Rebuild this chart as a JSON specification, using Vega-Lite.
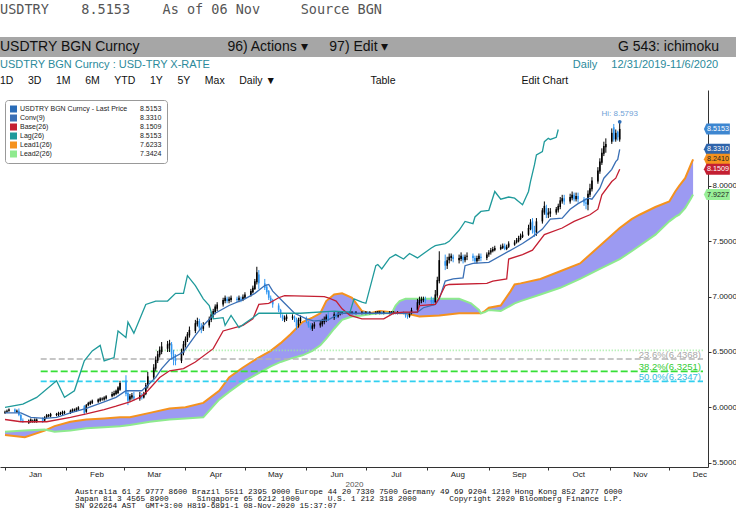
{
  "$schema": "https://vega.github.io/schema/vega-lite/v6.json",
  "padding": {"top": 3, "left": 0, "right": 0, "bottom": 0},
  "background": "white",
  "spacing": 2,
  "config": {"font": "Liberation Sans", "view": {"stroke": null}},
  "title": {
    "text": [
      "Australia 61 2 9777 8600 Brazil 5511 2395 9000 Europe 44 20 7330 7500 Germany 49 69 9204 1210 Hong Kong 852 2977 6000",
      "Japan 81 3 4565 8900\u00a0\u00a0\u00a0\u00a0\u00a0\u00a0Singapore 65 6212 1000\u00a0\u00a0\u00a0\u00a0\u00a0\u00a0U.S. 1 212 318 2000\u00a0\u00a0\u00a0\u00a0\u00a0\u00a0\u00a0Copyright 2020 Bloomberg Finance L.P.",
      "\u2003\u2003\u2003\u2003\u2003\u2003\u2003\u2003\u2003\u2003\u2003\u2003\u2003\u2003\u2003\u2003\u2003\u2003\u2003\u2003\u2003\u2003\u2003\u2003\u2003\u2003\u2003\u2003\u2003\u2003\u2003\u2003\u2003\u2003\u2003\u2003\u2003\u2003\u2003\u2003\u2003\u2003\u2003\u2003\u00a0\u00a0SN 926264 AST\u00a0\u00a0GMT+3:00 H819-6891-1 08-Nov-2020 15:37:07"
    ],
    "orient": "bottom", "anchor": "start", "dx": 75, "offset": 0,
    "font": "Liberation Mono", "fontSize": 7.8, "fontWeight": "normal", "color": "#111111", "lineHeight": 7
  },
  "resolve": {
    "scale": {"color": "independent", "fill": "independent", "stroke": "independent", "strokeDash": "independent"},
    "legend": {"color": "independent", "fill": "independent", "stroke": "independent", "strokeDash": "independent"}
  },
  "datasets": {
    "candles": [
      {"d":"2020-01-01","o":5.95,"h":5.97,"l":5.94,"c":5.96},
      {"d":"2020-01-02","o":5.96,"h":5.98,"l":5.95,"c":5.97},
      {"d":"2020-01-03","o":5.97,"h":5.99,"l":5.96,"c":5.98},
      {"d":"2020-01-06","o":5.98,"h":5.99,"l":5.95,"c":5.96},
      {"d":"2020-01-07","o":5.96,"h":5.98,"l":5.95,"c":5.97},
      {"d":"2020-01-08","o":5.97,"h":5.99,"l":5.92,"c":5.93},
      {"d":"2020-01-09","o":5.93,"h":5.94,"l":5.87,"c":5.88},
      {"d":"2020-01-10","o":5.88,"h":5.90,"l":5.86,"c":5.87},
      {"d":"2020-01-13","o":5.86,"h":5.89,"l":5.85,"c":5.88},
      {"d":"2020-01-14","o":5.87,"h":5.90,"l":5.86,"c":5.89},
      {"d":"2020-01-15","o":5.87,"h":5.89,"l":5.86,"c":5.88},
      {"d":"2020-01-16","o":5.87,"h":5.90,"l":5.86,"c":5.89},
      {"d":"2020-01-17","o":5.87,"h":5.90,"l":5.86,"c":5.89},
      {"d":"2020-01-20","o":5.90,"h":5.91,"l":5.86,"c":5.87},
      {"d":"2020-01-21","o":5.88,"h":5.92,"l":5.87,"c":5.91},
      {"d":"2020-01-22","o":5.91,"h":5.94,"l":5.90,"c":5.93},
      {"d":"2020-01-23","o":5.92,"h":5.94,"l":5.91,"c":5.93},
      {"d":"2020-01-24","o":5.92,"h":5.95,"l":5.91,"c":5.94},
      {"d":"2020-01-27","o":5.93,"h":5.95,"l":5.92,"c":5.94},
      {"d":"2020-01-28","o":5.93,"h":5.96,"l":5.92,"c":5.95},
      {"d":"2020-01-29","o":5.94,"h":5.96,"l":5.93,"c":5.95},
      {"d":"2020-01-30","o":5.94,"h":5.97,"l":5.93,"c":5.96},
      {"d":"2020-01-31","o":5.95,"h":5.97,"l":5.94,"c":5.96},
      {"d":"2020-02-03","o":5.95,"h":5.98,"l":5.94,"c":5.97},
      {"d":"2020-02-04","o":5.96,"h":5.99,"l":5.95,"c":5.98},
      {"d":"2020-02-05","o":5.97,"h":5.99,"l":5.96,"c":5.98},
      {"d":"2020-02-06","o":5.97,"h":6.00,"l":5.96,"c":5.99},
      {"d":"2020-02-07","o":5.98,"h":6.01,"l":5.97,"c":6.00},
      {"d":"2020-02-10","o":6.01,"h":6.02,"l":5.93,"c":5.95},
      {"d":"2020-02-11","o":5.96,"h":6.03,"l":5.95,"c":6.02},
      {"d":"2020-02-12","o":6.02,"h":6.05,"l":6.01,"c":6.04},
      {"d":"2020-02-13","o":6.03,"h":6.06,"l":6.02,"c":6.05},
      {"d":"2020-02-14","o":6.04,"h":6.07,"l":6.03,"c":6.06},
      {"d":"2020-02-17","o":6.05,"h":6.08,"l":6.04,"c":6.07},
      {"d":"2020-02-18","o":6.06,"h":6.09,"l":6.05,"c":6.08},
      {"d":"2020-02-19","o":6.07,"h":6.09,"l":6.06,"c":6.08},
      {"d":"2020-02-20","o":6.07,"h":6.10,"l":6.06,"c":6.09},
      {"d":"2020-02-21","o":6.08,"h":6.11,"l":6.07,"c":6.10},
      {"d":"2020-02-24","o":6.10,"h":6.14,"l":6.09,"c":6.12},
      {"d":"2020-02-25","o":6.11,"h":6.15,"l":6.10,"c":6.13},
      {"d":"2020-02-26","o":6.12,"h":6.16,"l":6.11,"c":6.15},
      {"d":"2020-02-27","o":6.13,"h":6.19,"l":6.12,"c":6.18},
      {"d":"2020-02-28","o":6.16,"h":6.24,"l":6.15,"c":6.22},
      {"d":"2020-03-02","o":6.24,"h":6.29,"l":6.10,"c":6.12},
      {"d":"2020-03-03","o":6.13,"h":6.15,"l":6.02,"c":6.06},
      {"d":"2020-03-04","o":6.07,"h":6.12,"l":6.05,"c":6.10},
      {"d":"2020-03-05","o":6.09,"h":6.13,"l":6.07,"c":6.11},
      {"d":"2020-03-06","o":6.10,"h":6.14,"l":6.06,"c":6.08},
      {"d":"2020-03-09","o":6.08,"h":6.14,"l":6.06,"c":6.11},
      {"d":"2020-03-10","o":6.10,"h":6.13,"l":6.07,"c":6.09},
      {"d":"2020-03-11","o":6.09,"h":6.14,"l":6.08,"c":6.12},
      {"d":"2020-03-12","o":6.12,"h":6.22,"l":6.11,"c":6.20},
      {"d":"2020-03-13","o":6.19,"h":6.32,"l":6.17,"c":6.28},
      {"d":"2020-03-16","o":6.27,"h":6.39,"l":6.25,"c":6.36},
      {"d":"2020-03-17","o":6.35,"h":6.46,"l":6.33,"c":6.43},
      {"d":"2020-03-18","o":6.42,"h":6.51,"l":6.40,"c":6.48},
      {"d":"2020-03-19","o":6.47,"h":6.55,"l":6.45,"c":6.52},
      {"d":"2020-03-20","o":6.50,"h":6.59,"l":6.48,"c":6.55},
      {"d":"2020-03-23","o":6.53,"h":6.60,"l":6.50,"c":6.57},
      {"d":"2020-03-24","o":6.56,"h":6.61,"l":6.50,"c":6.58},
      {"d":"2020-03-25","o":6.57,"h":6.59,"l":6.43,"c":6.48},
      {"d":"2020-03-26","o":6.48,"h":6.52,"l":6.38,"c":6.43},
      {"d":"2020-03-27","o":6.44,"h":6.48,"l":6.38,"c":6.42},
      {"d":"2020-03-30","o":6.42,"h":6.53,"l":6.40,"c":6.50},
      {"d":"2020-03-31","o":6.49,"h":6.60,"l":6.47,"c":6.57},
      {"d":"2020-04-01","o":6.56,"h":6.64,"l":6.54,"c":6.62},
      {"d":"2020-04-02","o":6.61,"h":6.68,"l":6.59,"c":6.66},
      {"d":"2020-04-03","o":6.65,"h":6.73,"l":6.63,"c":6.70},
      {"d":"2020-04-06","o":6.69,"h":6.79,"l":6.67,"c":6.76},
      {"d":"2020-04-07","o":6.75,"h":6.81,"l":6.73,"c":6.78},
      {"d":"2020-04-08","o":6.78,"h":6.80,"l":6.70,"c":6.72},
      {"d":"2020-04-09","o":6.73,"h":6.76,"l":6.67,"c":6.70},
      {"d":"2020-04-10","o":6.71,"h":6.77,"l":6.69,"c":6.74},
      {"d":"2020-04-13","o":6.74,"h":6.82,"l":6.72,"c":6.80},
      {"d":"2020-04-14","o":6.79,"h":6.86,"l":6.77,"c":6.84},
      {"d":"2020-04-15","o":6.83,"h":6.89,"l":6.81,"c":6.87},
      {"d":"2020-04-16","o":6.86,"h":6.93,"l":6.84,"c":6.91},
      {"d":"2020-04-17","o":6.89,"h":6.95,"l":6.87,"c":6.93},
      {"d":"2020-04-20","o":6.93,"h":6.99,"l":6.91,"c":6.97},
      {"d":"2020-04-21","o":6.96,"h":7.01,"l":6.94,"c":6.99},
      {"d":"2020-04-22","o":6.98,"h":7.00,"l":6.94,"c":6.96},
      {"d":"2020-04-23","o":6.96,"h":7.00,"l":6.94,"c":6.98},
      {"d":"2020-04-24","o":6.97,"h":7.01,"l":6.95,"c":6.99},
      {"d":"2020-04-27","o":6.98,"h":7.00,"l":6.95,"c":6.97},
      {"d":"2020-04-28","o":6.97,"h":7.01,"l":6.95,"c":6.99},
      {"d":"2020-04-29","o":6.98,"h":7.00,"l":6.95,"c":6.97},
      {"d":"2020-04-30","o":6.97,"h":7.02,"l":6.96,"c":7.00},
      {"d":"2020-05-01","o":6.99,"h":7.04,"l":6.98,"c":7.02},
      {"d":"2020-05-04","o":7.01,"h":7.07,"l":7.00,"c":7.05},
      {"d":"2020-05-05","o":7.04,"h":7.10,"l":7.03,"c":7.08},
      {"d":"2020-05-06","o":7.07,"h":7.16,"l":7.06,"c":7.14},
      {"d":"2020-05-07","o":7.13,"h":7.27,"l":7.11,"c":7.22},
      {"d":"2020-05-08","o":7.20,"h":7.24,"l":7.07,"c":7.12},
      {"d":"2020-05-11","o":7.12,"h":7.16,"l":7.06,"c":7.08},
      {"d":"2020-05-12","o":7.09,"h":7.11,"l":7.02,"c":7.04},
      {"d":"2020-05-13","o":7.05,"h":7.06,"l":6.97,"c":6.99},
      {"d":"2020-05-14","o":6.99,"h":7.01,"l":6.94,"c":6.96},
      {"d":"2020-05-15","o":6.96,"h":6.98,"l":6.90,"c":6.93},
      {"d":"2020-05-18","o":6.92,"h":6.94,"l":6.86,"c":6.88},
      {"d":"2020-05-19","o":6.88,"h":6.89,"l":6.81,"c":6.84},
      {"d":"2020-05-20","o":6.83,"h":6.84,"l":6.78,"c":6.80},
      {"d":"2020-05-21","o":6.79,"h":6.83,"l":6.77,"c":6.81},
      {"d":"2020-05-22","o":6.80,"h":6.84,"l":6.78,"c":6.82},
      {"d":"2020-05-25","o":6.81,"h":6.84,"l":6.79,"c":6.82},
      {"d":"2020-05-26","o":6.82,"h":6.83,"l":6.77,"c":6.80},
      {"d":"2020-05-27","o":6.80,"h":6.81,"l":6.70,"c":6.73},
      {"d":"2020-05-28","o":6.74,"h":6.81,"l":6.72,"c":6.79},
      {"d":"2020-05-29","o":6.78,"h":6.83,"l":6.76,"c":6.81},
      {"d":"2020-06-01","o":6.80,"h":6.82,"l":6.76,"c":6.78},
      {"d":"2020-06-02","o":6.77,"h":6.78,"l":6.72,"c":6.74},
      {"d":"2020-06-03","o":6.74,"h":6.76,"l":6.70,"c":6.72},
      {"d":"2020-06-04","o":6.71,"h":6.76,"l":6.69,"c":6.74},
      {"d":"2020-06-05","o":6.73,"h":6.77,"l":6.71,"c":6.75},
      {"d":"2020-06-08","o":6.74,"h":6.78,"l":6.72,"c":6.76},
      {"d":"2020-06-09","o":6.75,"h":6.80,"l":6.73,"c":6.78},
      {"d":"2020-06-10","o":6.77,"h":6.82,"l":6.75,"c":6.80},
      {"d":"2020-06-11","o":6.79,"h":6.84,"l":6.77,"c":6.82},
      {"d":"2020-06-12","o":6.83,"h":6.86,"l":6.78,"c":6.80},
      {"d":"2020-06-15","o":6.81,"h":6.86,"l":6.79,"c":6.84},
      {"d":"2020-06-16","o":6.84,"h":6.87,"l":6.80,"c":6.82},
      {"d":"2020-06-17","o":6.82,"h":6.86,"l":6.81,"c":6.84},
      {"d":"2020-06-18","o":6.84,"h":6.87,"l":6.83,"c":6.85},
      {"d":"2020-06-19","o":6.85,"h":6.87,"l":6.84,"c":6.86},
      {"d":"2020-06-22","o":6.86,"h":6.87,"l":6.84,"c":6.85},
      {"d":"2020-06-23","o":6.85,"h":6.87,"l":6.84,"c":6.86},
      {"d":"2020-06-24","o":6.85,"h":6.87,"l":6.84,"c":6.86},
      {"d":"2020-06-25","o":6.86,"h":6.87,"l":6.84,"c":6.85},
      {"d":"2020-06-26","o":6.85,"h":6.87,"l":6.84,"c":6.86},
      {"d":"2020-06-29","o":6.85,"h":6.87,"l":6.84,"c":6.86},
      {"d":"2020-06-30","o":6.86,"h":6.87,"l":6.84,"c":6.85},
      {"d":"2020-07-01","o":6.85,"h":6.87,"l":6.84,"c":6.86},
      {"d":"2020-07-02","o":6.86,"h":6.87,"l":6.84,"c":6.85},
      {"d":"2020-07-03","o":6.85,"h":6.87,"l":6.84,"c":6.86},
      {"d":"2020-07-06","o":6.85,"h":6.87,"l":6.84,"c":6.86},
      {"d":"2020-07-07","o":6.855,"h":6.87,"l":6.845,"c":6.865},
      {"d":"2020-07-08","o":6.85,"h":6.87,"l":6.84,"c":6.86},
      {"d":"2020-07-09","o":6.86,"h":6.87,"l":6.84,"c":6.85},
      {"d":"2020-07-10","o":6.85,"h":6.87,"l":6.84,"c":6.86},
      {"d":"2020-07-13","o":6.85,"h":6.87,"l":6.84,"c":6.86},
      {"d":"2020-07-14","o":6.855,"h":6.87,"l":6.845,"c":6.865},
      {"d":"2020-07-15","o":6.85,"h":6.87,"l":6.84,"c":6.86},
      {"d":"2020-07-16","o":6.86,"h":6.87,"l":6.84,"c":6.85},
      {"d":"2020-07-17","o":6.85,"h":6.87,"l":6.84,"c":6.86},
      {"d":"2020-07-20","o":6.86,"h":6.87,"l":6.84,"c":6.85},
      {"d":"2020-07-21","o":6.85,"h":6.86,"l":6.81,"c":6.83},
      {"d":"2020-07-22","o":6.83,"h":6.84,"l":6.80,"c":6.82},
      {"d":"2020-07-23","o":6.82,"h":6.86,"l":6.81,"c":6.85},
      {"d":"2020-07-24","o":6.85,"h":6.90,"l":6.84,"c":6.88},
      {"d":"2020-07-27","o":6.88,"h":6.98,"l":6.87,"c":6.95},
      {"d":"2020-07-28","o":6.94,"h":7.00,"l":6.92,"c":6.97},
      {"d":"2020-07-29","o":6.96,"h":7.00,"l":6.94,"c":6.98},
      {"d":"2020-07-30","o":6.97,"h":7.00,"l":6.95,"c":6.98},
      {"d":"2020-07-31","o":6.98,"h":7.00,"l":6.94,"c":6.96},
      {"d":"2020-08-03","o":6.97,"h":7.00,"l":6.93,"c":6.95},
      {"d":"2020-08-04","o":6.97,"h":6.99,"l":6.92,"c":6.94},
      {"d":"2020-08-05","o":6.95,"h":7.06,"l":6.94,"c":7.02},
      {"d":"2020-08-06","o":7.01,"h":7.18,"l":6.99,"c":7.15},
      {"d":"2020-08-07","o":7.14,"h":7.41,"l":7.12,"c":7.33},
      {"d":"2020-08-10","o":7.32,"h":7.38,"l":7.24,"c":7.28},
      {"d":"2020-08-11","o":7.28,"h":7.36,"l":7.25,"c":7.33},
      {"d":"2020-08-12","o":7.33,"h":7.39,"l":7.30,"c":7.36},
      {"d":"2020-08-13","o":7.35,"h":7.39,"l":7.32,"c":7.37},
      {"d":"2020-08-14","o":7.36,"h":7.38,"l":7.31,"c":7.34},
      {"d":"2020-08-17","o":7.33,"h":7.38,"l":7.30,"c":7.35},
      {"d":"2020-08-18","o":7.34,"h":7.40,"l":7.32,"c":7.37},
      {"d":"2020-08-19","o":7.36,"h":7.38,"l":7.30,"c":7.33},
      {"d":"2020-08-20","o":7.33,"h":7.38,"l":7.31,"c":7.36},
      {"d":"2020-08-21","o":7.36,"h":7.40,"l":7.33,"c":7.37},
      {"d":"2020-08-24","o":7.37,"h":7.39,"l":7.32,"c":7.35},
      {"d":"2020-08-25","o":7.35,"h":7.37,"l":7.30,"c":7.32},
      {"d":"2020-08-26","o":7.32,"h":7.37,"l":7.30,"c":7.35},
      {"d":"2020-08-27","o":7.34,"h":7.39,"l":7.32,"c":7.37},
      {"d":"2020-08-28","o":7.36,"h":7.39,"l":7.32,"c":7.35},
      {"d":"2020-08-31","o":7.35,"h":7.40,"l":7.33,"c":7.38},
      {"d":"2020-09-01","o":7.38,"h":7.42,"l":7.36,"c":7.40},
      {"d":"2020-09-02","o":7.40,"h":7.44,"l":7.38,"c":7.42},
      {"d":"2020-09-03","o":7.41,"h":7.45,"l":7.40,"c":7.43},
      {"d":"2020-09-04","o":7.42,"h":7.46,"l":7.41,"c":7.44},
      {"d":"2020-09-07","o":7.43,"h":7.47,"l":7.42,"c":7.45},
      {"d":"2020-09-08","o":7.44,"h":7.48,"l":7.43,"c":7.46},
      {"d":"2020-09-09","o":7.46,"h":7.48,"l":7.42,"c":7.43},
      {"d":"2020-09-10","o":7.43,"h":7.47,"l":7.42,"c":7.45},
      {"d":"2020-09-11","o":7.45,"h":7.50,"l":7.44,"c":7.48},
      {"d":"2020-09-14","o":7.47,"h":7.51,"l":7.46,"c":7.49},
      {"d":"2020-09-15","o":7.49,"h":7.53,"l":7.48,"c":7.51},
      {"d":"2020-09-16","o":7.50,"h":7.55,"l":7.49,"c":7.53},
      {"d":"2020-09-17","o":7.52,"h":7.57,"l":7.51,"c":7.55},
      {"d":"2020-09-18","o":7.54,"h":7.59,"l":7.53,"c":7.56},
      {"d":"2020-09-21","o":7.56,"h":7.65,"l":7.55,"c":7.62},
      {"d":"2020-09-22","o":7.61,"h":7.70,"l":7.60,"c":7.67},
      {"d":"2020-09-23","o":7.68,"h":7.71,"l":7.57,"c":7.60},
      {"d":"2020-09-24","o":7.60,"h":7.64,"l":7.54,"c":7.58},
      {"d":"2020-09-25","o":7.58,"h":7.71,"l":7.55,"c":7.68},
      {"d":"2020-09-28","o":7.68,"h":7.80,"l":7.66,"c":7.78},
      {"d":"2020-09-29","o":7.76,"h":7.86,"l":7.74,"c":7.82},
      {"d":"2020-09-30","o":7.80,"h":7.83,"l":7.71,"c":7.74},
      {"d":"2020-10-01","o":7.74,"h":7.80,"l":7.71,"c":7.76},
      {"d":"2020-10-02","o":7.75,"h":7.80,"l":7.72,"c":7.77},
      {"d":"2020-10-05","o":7.76,"h":7.81,"l":7.74,"c":7.79},
      {"d":"2020-10-06","o":7.78,"h":7.84,"l":7.76,"c":7.82},
      {"d":"2020-10-07","o":7.81,"h":7.90,"l":7.79,"c":7.87},
      {"d":"2020-10-08","o":7.86,"h":7.92,"l":7.84,"c":7.89},
      {"d":"2020-10-09","o":7.89,"h":7.92,"l":7.83,"c":7.86},
      {"d":"2020-10-12","o":7.86,"h":7.93,"l":7.84,"c":7.90},
      {"d":"2020-10-13","o":7.89,"h":7.95,"l":7.87,"c":7.92},
      {"d":"2020-10-14","o":7.92,"h":7.94,"l":7.86,"c":7.88},
      {"d":"2020-10-15","o":7.88,"h":7.94,"l":7.86,"c":7.91},
      {"d":"2020-10-16","o":7.91,"h":7.94,"l":7.85,"c":7.88},
      {"d":"2020-10-19","o":7.88,"h":7.90,"l":7.82,"c":7.85},
      {"d":"2020-10-20","o":7.85,"h":7.89,"l":7.79,"c":7.84},
      {"d":"2020-10-21","o":7.83,"h":7.96,"l":7.78,"c":7.93},
      {"d":"2020-10-22","o":7.92,"h":8.02,"l":7.90,"c":7.98},
      {"d":"2020-10-23","o":7.97,"h":8.08,"l":7.95,"c":8.05},
      {"d":"2020-10-26","o":8.04,"h":8.17,"l":8.02,"c":8.14},
      {"d":"2020-10-27","o":8.13,"h":8.25,"l":8.11,"c":8.22},
      {"d":"2020-10-28","o":8.21,"h":8.34,"l":8.19,"c":8.30},
      {"d":"2020-10-29","o":8.29,"h":8.40,"l":8.27,"c":8.36},
      {"d":"2020-10-30","o":8.35,"h":8.43,"l":8.30,"c":8.38},
      {"d":"2020-11-02","o":8.40,"h":8.52,"l":8.38,"c":8.48},
      {"d":"2020-11-03","o":8.53,"h":8.56,"l":8.40,"c":8.42},
      {"d":"2020-11-04","o":8.42,"h":8.51,"l":8.40,"c":8.48},
      {"d":"2020-11-05","o":8.49,"h":8.50,"l":8.41,"c":8.44},
      {"d":"2020-11-06","o":8.42,"h":8.5793,"l":8.40,"c":8.5153}
    ],
    "lines": [
      {"s":"conv","d":"2020-01-01","v":5.95},{"s":"conv","d":"2020-01-09","v":5.95},{"s":"conv","d":"2020-01-14","v":5.91},
      {"s":"conv","d":"2020-01-21","v":5.90},{"s":"conv","d":"2020-01-27","v":5.91},{"s":"conv","d":"2020-02-03","v":5.95},
      {"s":"conv","d":"2020-02-11","v":5.99},{"s":"conv","d":"2020-02-20","v":6.05},{"s":"conv","d":"2020-02-26","v":6.09},
      {"s":"conv","d":"2020-03-02","v":6.15},{"s":"conv","d":"2020-03-06","v":6.15},{"s":"conv","d":"2020-03-10","v":6.15},
      {"s":"conv","d":"2020-03-13","v":6.20},{"s":"conv","d":"2020-03-17","v":6.27},{"s":"conv","d":"2020-03-20","v":6.35},
      {"s":"conv","d":"2020-03-24","v":6.43},{"s":"conv","d":"2020-03-31","v":6.50},{"s":"conv","d":"2020-04-06","v":6.65},
      {"s":"conv","d":"2020-04-10","v":6.74},{"s":"conv","d":"2020-04-16","v":6.85},{"s":"conv","d":"2020-04-23","v":6.92},
      {"s":"conv","d":"2020-05-01","v":6.98},{"s":"conv","d":"2020-05-06","v":7.03},{"s":"conv","d":"2020-05-11","v":7.10},
      {"s":"conv","d":"2020-05-13","v":7.11},{"s":"conv","d":"2020-05-15","v":7.05},{"s":"conv","d":"2020-05-21","v":6.94},
      {"s":"conv","d":"2020-05-26","v":6.85},{"s":"conv","d":"2020-06-01","v":6.80},{"s":"conv","d":"2020-06-05","v":6.78},
      {"s":"conv","d":"2020-06-12","v":6.79},{"s":"conv","d":"2020-06-18","v":6.85},{"s":"conv","d":"2020-06-30","v":6.85},
      {"s":"conv","d":"2020-07-21","v":6.85},{"s":"conv","d":"2020-07-27","v":6.86},{"s":"conv","d":"2020-07-30","v":6.90},
      {"s":"conv","d":"2020-08-05","v":6.93},{"s":"conv","d":"2020-08-07","v":6.98},{"s":"conv","d":"2020-08-10","v":7.14},
      {"s":"conv","d":"2020-08-14","v":7.16},{"s":"conv","d":"2020-08-19","v":7.17},{"s":"conv","d":"2020-08-20","v":7.28},
      {"s":"conv","d":"2020-08-24","v":7.30},{"s":"conv","d":"2020-09-01","v":7.31},{"s":"conv","d":"2020-09-14","v":7.44},
      {"s":"conv","d":"2020-09-18","v":7.48},{"s":"conv","d":"2020-09-23","v":7.54},{"s":"conv","d":"2020-09-28","v":7.61},
      {"s":"conv","d":"2020-10-02","v":7.70},{"s":"conv","d":"2020-10-08","v":7.71},{"s":"conv","d":"2020-10-12","v":7.79},
      {"s":"conv","d":"2020-10-16","v":7.84},{"s":"conv","d":"2020-10-21","v":7.89},{"s":"conv","d":"2020-10-23","v":7.88},
      {"s":"conv","d":"2020-10-27","v":7.98},{"s":"conv","d":"2020-10-29","v":8.07},{"s":"conv","d":"2020-11-02","v":8.15},
      {"s":"conv","d":"2020-11-04","v":8.22},{"s":"conv","d":"2020-11-05","v":8.24},{"s":"conv","d":"2020-11-06","v":8.331},
      {"s":"base","d":"2020-01-01","v":5.89},{"s":"base","d":"2020-01-09","v":5.87},{"s":"base","d":"2020-01-22","v":5.87},
      {"s":"base","d":"2020-02-03","v":5.91},{"s":"base","d":"2020-02-11","v":5.94},{"s":"base","d":"2020-02-20","v":5.98},
      {"s":"base","d":"2020-02-26","v":6.01},{"s":"base","d":"2020-03-04","v":6.05},{"s":"base","d":"2020-03-09","v":6.09},
      {"s":"base","d":"2020-03-13","v":6.15},{"s":"base","d":"2020-03-19","v":6.27},{"s":"base","d":"2020-03-24","v":6.33},
      {"s":"base","d":"2020-03-31","v":6.35},{"s":"base","d":"2020-04-06","v":6.41},{"s":"base","d":"2020-04-15","v":6.53},
      {"s":"base","d":"2020-04-20","v":6.69},{"s":"base","d":"2020-04-30","v":6.74},{"s":"base","d":"2020-05-05","v":6.80},
      {"s":"base","d":"2020-05-08","v":6.93},{"s":"base","d":"2020-05-13","v":6.94},{"s":"base","d":"2020-05-18","v":6.99},
      {"s":"base","d":"2020-05-21","v":7.01},{"s":"base","d":"2020-06-10","v":7.00},{"s":"base","d":"2020-06-12","v":6.99},
      {"s":"base","d":"2020-06-16","v":6.96},{"s":"base","d":"2020-06-19","v":6.89},{"s":"base","d":"2020-06-23","v":6.83},
      {"s":"base","d":"2020-06-29","v":6.80},{"s":"base","d":"2020-07-10","v":6.80},{"s":"base","d":"2020-07-15","v":6.85},
      {"s":"base","d":"2020-07-20","v":6.86},{"s":"base","d":"2020-07-27","v":6.86},{"s":"base","d":"2020-07-28","v":6.92},
      {"s":"base","d":"2020-08-05","v":6.93},{"s":"base","d":"2020-08-07","v":6.99},{"s":"base","d":"2020-08-10","v":7.10},
      {"s":"base","d":"2020-08-12","v":7.11},{"s":"base","d":"2020-08-31","v":7.12},{"s":"base","d":"2020-09-03","v":7.14},
      {"s":"base","d":"2020-09-10","v":7.16},{"s":"base","d":"2020-09-11","v":7.34},{"s":"base","d":"2020-09-18","v":7.38},
      {"s":"base","d":"2020-09-23","v":7.42},{"s":"base","d":"2020-09-29","v":7.56},{"s":"base","d":"2020-10-08","v":7.62},
      {"s":"base","d":"2020-10-14","v":7.68},{"s":"base","d":"2020-10-22","v":7.74},{"s":"base","d":"2020-10-26","v":7.79},
      {"s":"base","d":"2020-10-28","v":7.92},{"s":"base","d":"2020-11-02","v":8.04},{"s":"base","d":"2020-11-04","v":8.07},
      {"s":"base","d":"2020-11-06","v":8.1509},
      {"s":"lag","d":"2020-01-01","v":6.00},{"s":"lag","d":"2020-01-10","v":6.03},{"s":"lag","d":"2020-01-17","v":6.09},
      {"s":"lag","d":"2020-01-27","v":6.24},{"s":"lag","d":"2020-01-31","v":6.09},{"s":"lag","d":"2020-02-05","v":6.15},
      {"s":"lag","d":"2020-02-10","v":6.42},{"s":"lag","d":"2020-02-14","v":6.51},{"s":"lag","d":"2020-02-18","v":6.56},
      {"s":"lag","d":"2020-02-20","v":6.42},{"s":"lag","d":"2020-02-25","v":6.45},{"s":"lag","d":"2020-02-27","v":6.69},
      {"s":"lag","d":"2020-03-02","v":6.63},{"s":"lag","d":"2020-03-03","v":6.77},{"s":"lag","d":"2020-03-06","v":6.67},
      {"s":"lag","d":"2020-03-12","v":6.93},{"s":"lag","d":"2020-03-17","v":6.96},{"s":"lag","d":"2020-03-23","v":6.96},
      {"s":"lag","d":"2020-03-27","v":7.03},{"s":"lag","d":"2020-03-31","v":7.03},{"s":"lag","d":"2020-04-02","v":7.19},
      {"s":"lag","d":"2020-04-06","v":7.10},{"s":"lag","d":"2020-04-07","v":7.07},{"s":"lag","d":"2020-04-10","v":6.98},
      {"s":"lag","d":"2020-04-13","v":6.92},{"s":"lag","d":"2020-04-15","v":6.80},{"s":"lag","d":"2020-04-20","v":6.81},
      {"s":"lag","d":"2020-04-21","v":6.74},{"s":"lag","d":"2020-04-24","v":6.83},{"s":"lag","d":"2020-04-28","v":6.72},
      {"s":"lag","d":"2020-05-01","v":6.76},{"s":"lag","d":"2020-05-05","v":6.81},{"s":"lag","d":"2020-05-08","v":6.85},
      {"s":"lag","d":"2020-05-20","v":6.85},{"s":"lag","d":"2020-05-29","v":6.85},{"s":"lag","d":"2020-06-15","v":6.87},
      {"s":"lag","d":"2020-06-23","v":6.86},{"s":"lag","d":"2020-06-25","v":6.98},{"s":"lag","d":"2020-06-29","v":6.95},
      {"s":"lag","d":"2020-07-01","v":6.94},{"s":"lag","d":"2020-07-06","v":7.28},{"s":"lag","d":"2020-07-07","v":7.29},
      {"s":"lag","d":"2020-07-09","v":7.25},{"s":"lag","d":"2020-07-13","v":7.35},{"s":"lag","d":"2020-07-16","v":7.38},
      {"s":"lag","d":"2020-07-20","v":7.34},{"s":"lag","d":"2020-07-23","v":7.39},{"s":"lag","d":"2020-07-27","v":7.35},
      {"s":"lag","d":"2020-08-03","v":7.44},{"s":"lag","d":"2020-08-05","v":7.46},{"s":"lag","d":"2020-08-10","v":7.48},
      {"s":"lag","d":"2020-08-12","v":7.50},{"s":"lag","d":"2020-08-14","v":7.54},{"s":"lag","d":"2020-08-17","v":7.60},
      {"s":"lag","d":"2020-08-20","v":7.68},{"s":"lag","d":"2020-08-24","v":7.66},{"s":"lag","d":"2020-08-25","v":7.72},
      {"s":"lag","d":"2020-08-28","v":7.77},{"s":"lag","d":"2020-09-01","v":7.78},{"s":"lag","d":"2020-09-04","v":7.95},
      {"s":"lag","d":"2020-09-07","v":7.88},{"s":"lag","d":"2020-09-11","v":7.90},{"s":"lag","d":"2020-09-14","v":7.89},
      {"s":"lag","d":"2020-09-16","v":7.86},{"s":"lag","d":"2020-09-18","v":7.83},{"s":"lag","d":"2020-09-21","v":7.95},
      {"s":"lag","d":"2020-09-22","v":8.04},{"s":"lag","d":"2020-09-24","v":8.19},{"s":"lag","d":"2020-09-25","v":8.28},
      {"s":"lag","d":"2020-09-28","v":8.31},{"s":"lag","d":"2020-09-29","v":8.40},{"s":"lag","d":"2020-10-01","v":8.43},
      {"s":"lag","d":"2020-10-02","v":8.42},{"s":"lag","d":"2020-10-05","v":8.44},{"s":"lag","d":"2020-10-06","v":8.51}
    ],
    "cloud": [
      {"d":"2020-01-01","lead1":5.75,"lead2":5.78},{"d":"2020-01-11","lead1":5.73,"lead2":5.79},
      {"d":"2020-01-21","lead1":5.79,"lead2":5.80},{"d":"2020-01-26","lead1":5.83,"lead2":5.78},
      {"d":"2020-02-03","lead1":5.87,"lead2":5.79},{"d":"2020-02-11","lead1":5.89,"lead2":5.81},
      {"d":"2020-02-20","lead1":5.90,"lead2":5.82},{"d":"2020-02-28","lead1":5.91,"lead2":5.83},
      {"d":"2020-03-04","lead1":5.91,"lead2":5.84},{"d":"2020-03-14","lead1":5.95,"lead2":5.87},
      {"d":"2020-03-24","lead1":5.99,"lead2":5.89},{"d":"2020-04-01","lead1":6.00,"lead2":5.90},
      {"d":"2020-04-10","lead1":6.04,"lead2":5.91},{"d":"2020-04-18","lead1":6.15,"lead2":6.07},
      {"d":"2020-04-23","lead1":6.27,"lead2":6.14},{"d":"2020-04-30","lead1":6.36,"lead2":6.23},
      {"d":"2020-05-07","lead1":6.44,"lead2":6.30},{"d":"2020-05-14","lead1":6.51,"lead2":6.37},
      {"d":"2020-05-19","lead1":6.58,"lead2":6.41},{"d":"2020-05-24","lead1":6.66,"lead2":6.44},
      {"d":"2020-05-30","lead1":6.77,"lead2":6.47},{"d":"2020-06-04","lead1":6.81,"lead2":6.51},
      {"d":"2020-06-08","lead1":6.85,"lead2":6.56},{"d":"2020-06-11","lead1":6.96,"lead2":6.62},
      {"d":"2020-06-15","lead1":7.02,"lead2":6.71},{"d":"2020-06-19","lead1":7.03,"lead2":6.79},
      {"d":"2020-06-24","lead1":6.99,"lead2":6.82},{"d":"2020-06-29","lead1":6.87,"lead2":6.83},
      {"d":"2020-07-03","lead1":6.85,"lead2":6.84},{"d":"2020-07-08","lead1":6.87,"lead2":6.85},
      {"d":"2020-07-14","lead1":6.86,"lead2":6.85},{"d":"2020-07-16","lead1":6.86,"lead2":6.92},
      {"d":"2020-07-18","lead1":6.85,"lead2":6.96},{"d":"2020-07-21","lead1":6.85,"lead2":6.98},
      {"d":"2020-07-28","lead1":6.82,"lead2":6.98},{"d":"2020-08-07","lead1":6.83,"lead2":6.98},
      {"d":"2020-08-17","lead1":6.85,"lead2":6.98},{"d":"2020-08-23","lead1":6.85,"lead2":6.94},
      {"d":"2020-08-27","lead1":6.85,"lead2":6.88},{"d":"2020-08-28","lead1":6.85,"lead2":6.85},
      {"d":"2020-08-30","lead1":6.87,"lead2":6.86},{"d":"2020-09-01","lead1":6.90,"lead2":6.88},
      {"d":"2020-09-07","lead1":6.92,"lead2":6.87},{"d":"2020-09-12","lead1":7.05,"lead2":6.92},
      {"d":"2020-09-14","lead1":7.11,"lead2":6.94},{"d":"2020-09-17","lead1":7.12,"lead2":6.96},
      {"d":"2020-09-27","lead1":7.16,"lead2":7.02},{"d":"2020-10-07","lead1":7.23,"lead2":7.08},
      {"d":"2020-10-17","lead1":7.30,"lead2":7.16},{"d":"2020-10-27","lead1":7.46,"lead2":7.25},
      {"d":"2020-11-06","lead1":7.62,"lead2":7.34},{"d":"2020-11-12","lead1":7.70,"lead2":7.41},
      {"d":"2020-11-16","lead1":7.74,"lead2":7.46},{"d":"2020-11-24","lead1":7.81,"lead2":7.56},
      {"d":"2020-12-01","lead1":7.86,"lead2":7.68},{"d":"2020-12-04","lead1":7.95,"lead2":7.72},
      {"d":"2020-12-06","lead1":8.00,"lead2":7.74},{"d":"2020-12-09","lead1":8.07,"lead2":7.80},
      {"d":"2020-12-12","lead1":8.20,"lead2":7.89},{"d":"2020-12-13","lead1":8.241,"lead2":7.9227}
    ],
    "fib": [
      {"k":"23.6%","v":6.4368,"start":"2020-01-19","lbl":"23.6%(6.4368)"},
      {"k":"38.2%","v":6.3251,"start":"2020-01-19","lbl":"38.2%(6.3251)"},
      {"k":"50.0%","v":6.2347,"start":"2020-01-19","lbl":"50.0%(6.2347)"},
      {"k":"dot","v":6.515,"start":"2020-03-17","lbl":""}
    ],
    "hi": [{"d":"2020-11-06","v":8.5793,"lbl":"Hi: 8.5793"}],
    "tags": [
      {"k":"px","v":8.5153},
      {"k":"conv","v":8.331},
      {"k":"lead1","v":8.241},
      {"k":"base","v":8.1509},
      {"k":"lead2","v":7.9227}
    ]
  },
  "vconcat": [
    {
      "width": 736,
      "height": 20,
      "view": {"fill": "#a6a6a6", "stroke": null},
      "title": {
        "text": "\u00a0USDTRY\u00a0\u00a0\u00a0\u00a08.5153\u00a0\u00a0\u00a0\u00a0As of 06 Nov\u00a0\u00a0\u00a0\u00a0\u00a0Source BGN",
        "subtitle": "\u00a0USDTRY BGN Curncy\u2003\u2003\u2003\u2003\u2003\u2003\u00a096) Actions \u25be\u2003\u00a0\u00a097) Edit \u25be\u2003\u2003\u2003\u2003\u2003\u2003\u2003\u2003\u2003\u2003\u2003\u2003\u2003\u2003\u2003\u00a0\u00a0\u00a0\u00a0\u00a0G 543: ichimoku",
        "anchor": "start",
        "offset": -16.5,
        "font": "DejaVu Sans Mono",
        "fontSize": 13.5,
        "fontWeight": "normal",
        "color": "#555555",
        "subtitleFont": "Liberation Sans",
        "subtitleFontSize": 14,
        "subtitleColor": "#111111",
        "subtitlePadding": 23
      },
      "data": {"values": [{}]},
      "mark": {"type": "text", "text": ""},
      "encoding": {}
    },
    {
      "width": 708,
      "height": 377,
      "title": {
        "text": "\u00a0USDTRY BGN Curncy : USD-TRY X-RATE\u2003\u2003\u2003\u2003\u2003\u2003\u2003\u2003\u2003\u2003\u2003\u2003\u2003\u2003\u2003\u2003\u2003\u2003\u2003\u2003\u2003\u2003\u2003\u2003\u2003\u2003\u2003\u2003\u2003\u2003\u2003\u2003\u2003Daily\u2003\u00a012/31/2019-11/6/2020",
        "subtitle": "\u00a0\u00a0\u00a01D\u00a0\u00a0\u00a0\u00a0\u00a03D\u00a0\u00a0\u00a0\u00a0\u00a01M\u00a0\u00a0\u00a0\u00a0\u00a06M\u00a0\u00a0\u00a0\u00a0\u00a0YTD\u00a0\u00a0\u00a0\u00a0\u00a01Y\u00a0\u00a0\u00a0\u00a0\u00a05Y\u00a0\u00a0\u00a0\u00a0\u00a0Max\u00a0\u00a0\u00a0\u00a0\u00a0Daily \u25bc\u2003\u2003\u2003\u2003\u2003\u2003\u2003\u2003\u2003Table\u2003\u2003\u2003\u2003\u2003\u2003\u2003\u2003\u2003\u2003\u2003\u2003Edit Chart",
        "anchor": "start",
        "offset": 3.5,
        "font": "Liberation Sans",
        "fontSize": 11,
        "fontWeight": "normal",
        "color": "#2b8a9b",
        "subtitleFont": "Liberation Sans",
        "subtitleFontSize": 10.5,
        "subtitleColor": "#111111",
        "subtitlePadding": 5.75
      },
      "layer": [
        {
          "data": {"name": "cloud"},
          "mark": {"type": "area", "color": "#9c9af2", "opacity": 1},
          "encoding": {
            "x": {
              "field": "d", "type": "temporal", "title": "2020",
              "scale": {"type": "utc", "domain": [{"year": 2020, "month": 1, "date": 1, "utc": true}, {"year": 2020, "month": 12, "date": 18, "utc": true}]},
              "axis": {
                "tickCount": {"interval": "month", "step": 1},
                "labelExpr": "utcFormat(datum.value, '%b')",
                "labelOffset": 30, "labelFlush": false, "labelOverlap": false, "labelBound": false,
                "labelFontSize": 8, "labelColor": "#222222", "labelPadding": 0,
                "tickSize": 3, "tickColor": "#333333", "domainColor": "#333333", "grid": false,
                "titleFontSize": 8, "titleFontWeight": "normal", "titleColor": "#555555", "titlePadding": 2
              }
            },
            "y": {
              "field": "lead1", "type": "quantitative", "title": null,
              "scale": {"domain": [5.461, 8.867], "nice": false, "zero": false},
              "axis": {
                "orient": "right",
                "values": [5.5, 5.75, 6, 6.25, 6.5, 6.75, 7, 7.25, 7.5, 7.75, 8, 8.25, 8.5, 8.75],
                "labelExpr": "datum.value % 0.5 == 0 && datum.value < 8.4 ? format(datum.value, '.4f') : ''",
                "tickSize": 3, "labelPadding": 1, "labelFontSize": 8, "labelColor": "#222222",
                "domainColor": "#333333", "tickColor": "#333333", "grid": false
              }
            },
            "y2": {"field": "lead2"}
          }
        },
        {
          "data": {"name": "cloud"},
          "transform": [{"fold": ["lead1", "lead2"], "as": ["s", "v"]}],
          "mark": {"type": "line", "strokeWidth": 2},
          "encoding": {
            "x": {"field": "d", "type": "temporal"},
            "y": {"field": "v", "type": "quantitative"},
            "color": {
              "field": "s", "type": "nominal",
              "scale": {
                "domain": ["px", "conv", "base", "lag", "lead1", "lead2", "v_px", "v_conv", "v_base", "v_lag", "v_lead1", "v_lead2"],
                "range": ["#2a6cb8", "#3a6fb5", "#c41f32", "#1f9a9b", "#f5921e", "#8eea8e", "rgba(0,0,0,0)", "rgba(0,0,0,0)", "rgba(0,0,0,0)", "rgba(0,0,0,0)", "rgba(0,0,0,0)", "rgba(0,0,0,0)"]
              },
              "legend": {
                "title": null, "orient": "none", "legendX": 5, "legendY": 10,
                "columns": 2, "columnPadding": 2, "rowPadding": 1, "clipHeight": 8,
                "symbolType": "square", "symbolSize": 9, "symbolStrokeWidth": 4,
                "labelFont": "Liberation Sans", "labelFontSize": 7, "labelColor": "#222222", "labelOffset": 3, "labelLimit": 200,
                "padding": 5, "fillColor": "#ffffff", "strokeColor": "#999999", "cornerRadius": 3,
                "labelExpr": "datum.label == 'px' ? 'USDTRY BGN Curncy - Last Price' : datum.label == 'v_px' ? '8.5153' : datum.label == 'conv' ? 'Conv(9)' : datum.label == 'v_conv' ? '8.3310' : datum.label == 'base' ? 'Base(26)' : datum.label == 'v_base' ? '8.1509' : datum.label == 'lag' ? 'Lag(26)' : datum.label == 'v_lag' ? '8.5153' : datum.label == 'lead1' ? 'Lead1(26)' : datum.label == 'v_lead1' ? '7.6233' : datum.label == 'lead2' ? 'Lead2(26)' : '7.3424'"
              }
            }
          }
        },
        {
          "data": {"name": "fib"},
          "mark": {"type": "rule", "strokeWidth": 1.6},
          "encoding": {
            "x": {"field": "start", "type": "temporal"},
            "x2": {"datum": {"year": 2020, "month": 12, "date": 18, "utc": true}},
            "y": {"field": "v", "type": "quantitative"},
            "stroke": {
              "field": "k", "type": "nominal", "legend": null,
              "scale": {"domain": ["23.6%", "38.2%", "50.0%", "dot"], "range": ["#b4b4b4", "#36e036", "#30d0f0", "#9cec9c"]}
            },
            "strokeDash": {
              "field": "k", "type": "nominal", "legend": null,
              "scale": {"domain": ["23.6%", "38.2%", "50.0%", "dot"], "range": [[6, 3], [7, 3], [6, 3], [1, 2]]}
            }
          }
        },
        {
          "data": {"name": "fib"},
          "transform": [{"filter": "datum.lbl != ''"}],
          "mark": {"type": "text", "align": "right", "baseline": "bottom", "dx": -2, "dy": 1, "fontSize": 9.5},
          "encoding": {
            "x": {"datum": {"year": 2020, "month": 12, "date": 18, "utc": true}, "type": "temporal"},
            "y": {"field": "v", "type": "quantitative"},
            "text": {"field": "lbl"},
            "fill": {
              "field": "k", "type": "nominal", "legend": null,
              "scale": {
                "domain": ["23.6%", "38.2%", "50.0%", "px", "conv", "base", "lead1", "lead2"],
                "range": ["#a8a8a8", "#33cc33", "#33bbe0", "#3d86d0", "#2f64aa", "#c41f32", "#f5921e", "#98ef98"]
              }
            }
          }
        },
        {
          "data": {"name": "candles"},
          "mark": {"type": "rule", "strokeWidth": 1},
          "encoding": {
            "x": {"field": "d", "type": "temporal"},
            "y": {"field": "l", "type": "quantitative"},
            "y2": {"field": "h"},
            "color": {"condition": {"test": "datum.c < datum.o", "value": "#2f96f2"}, "value": "#000000"}
          }
        },
        {
          "data": {"name": "candles"},
          "mark": {"type": "bar", "width": 1.6},
          "encoding": {
            "x": {"field": "d", "type": "temporal"},
            "y": {"field": "o", "type": "quantitative"},
            "y2": {"field": "c"},
            "color": {"condition": {"test": "datum.c < datum.o", "value": "#2f96f2"}, "value": "#000000"}
          }
        },
        {
          "data": {"name": "lines"},
          "mark": {"type": "line", "strokeWidth": 1.3},
          "encoding": {
            "x": {"field": "d", "type": "temporal"},
            "y": {"field": "v", "type": "quantitative"},
            "color": {"field": "s", "type": "nominal"}
          }
        },
        {
          "data": {"name": "hi"},
          "mark": {"type": "point", "filled": true, "size": 14, "color": "#2a6cb8", "opacity": 1},
          "encoding": {
            "x": {"field": "d", "type": "temporal"},
            "y": {"field": "v", "type": "quantitative"}
          }
        },
        {
          "data": {"name": "hi"},
          "mark": {"type": "text", "dy": -8, "fontSize": 8, "color": "#6f9fd6"},
          "encoding": {
            "x": {"field": "d", "type": "temporal"},
            "y": {"field": "v", "type": "quantitative"},
            "text": {"field": "lbl"}
          }
        },
        {
          "data": {"name": "tags"},
          "mark": {"type": "point", "filled": true, "opacity": 1, "size": 676, "shape": "M-1,0L-0.8,-0.42L1,-0.42L1,0.42L-0.8,0.42Z", "strokeWidth": 0},
          "encoding": {
            "x": {"datum": {"year": 2020, "month": 12, "date": 25, "utc": true}, "type": "temporal"},
            "y": {"field": "v", "type": "quantitative"},
            "fill": {"field": "k", "type": "nominal", "legend": null}
          }
        },
        {
          "data": {"name": "tags"},
          "mark": {"type": "text", "fontSize": 7.2, "dx": 1, "baseline": "middle"},
          "encoding": {
            "x": {"datum": {"year": 2020, "month": 12, "date": 25, "utc": true}, "type": "temporal"},
            "y": {"field": "v", "type": "quantitative"},
            "text": {"field": "v", "format": ".4f"},
            "color": {"condition": {"test": "datum.k == 'lead1' || datum.k == 'lead2'", "value": "#222222"}, "value": "#ffffff"}
          }
        }
      ]
    }
  ]
}
